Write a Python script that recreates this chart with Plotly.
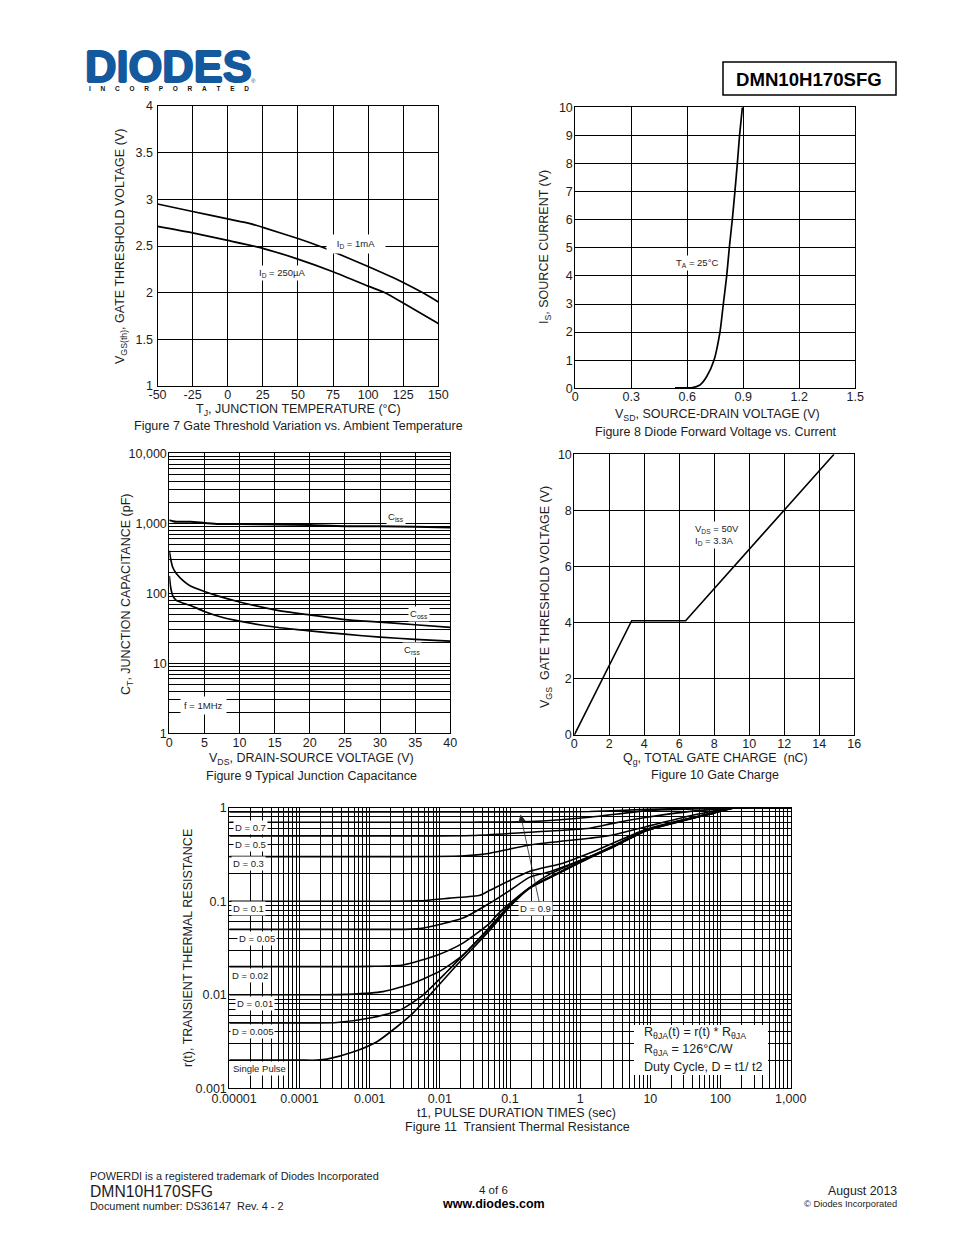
import plotly.graph_objects as go

# Figure 7
temp = [-50, -25, 0, 16, 25, 50, 65, 75, 100, 125, 140, 150]
vth_1ma = [2.95, 2.87, 2.79, 2.74, 2.70, 2.58, 2.50, 2.44, 2.28, 2.11, 1.99, 1.90]
temp2 = [-50, -25, 0, 25, 50, 75, 100, 112, 125, 150]
vth_250ua = [2.71, 2.64, 2.56, 2.475, 2.36, 2.225, 2.07, 2.0, 1.89, 1.67]

# Figure 8
vsd = [0.534, 0.623, 0.668, 0.704, 0.743, 0.775, 0.793, 0.811, 0.825, 0.841, 0.855, 0.868, 0.88, 0.895]
isd = [0.02, 0.02, 0.12, 0.42, 1.0, 2.0, 3.0, 4.0, 5.0, 6.0, 7.0, 8.0, 9.0, 10.0]

# Figure 9
vds = [0, 0.2, 0.5, 1, 2, 3, 5, 7, 10, 15, 20, 25, 30, 35, 40]
ciss = [1110, 1090, 1070, 1050, 1050, 1050, 1010, 975, 975, 960, 940, 905, 905, 890, 870]
coss = [405, 307, 233, 191, 150, 127, 106, 91, 75, 58, 49, 42, 38.8, 35.5, 32.5]
crss = [177, 120, 92, 79, 72, 67, 55, 47, 40, 33, 29, 26, 23.6, 22, 20.7]

# Figure 10
qg = [0, 3.28, 6.36, 8, 12, 14.84]
vgs = [0, 4.07, 4.07, 5.22, 8.02, 10]

# Figure 11
t_single = [1e-5, 1e-4, 1.8e-4, 2.47e-4, 5.78e-4, 0.00127, 0.00245, 0.00414, 0.00798, 0.0175, 0.0517, 0.1, 0.192, 0.37, 1.37, 2.92, 8.9, 26.3, 77.6, 150, 1000]
r_single = [0.002, 0.002, 0.002, 0.00205, 0.00244, 0.00315, 0.00455, 0.00637, 0.0108, 0.0208, 0.0491, 0.088, 0.138, 0.178, 0.292, 0.378, 0.57, 0.71, 0.87, 0.99, 1.0]
t_005 = [1e-5, 1.5e-4, 3.42e-4, 0.00101, 0.0027, 0.00574, 0.0126, 0.0269, 0.0517, 0.1, 0.192, 0.37, 1.37, 2.92, 8.9, 26.3, 77.6, 150, 1000]
r_005 = [0.005, 0.005, 0.00505, 0.00564, 0.00686, 0.00993, 0.0176, 0.0315, 0.0516, 0.09, 0.139, 0.18, 0.294, 0.38, 0.572, 0.715, 0.87, 0.99, 1.0]
t_01 = [1e-5, 2e-4, 5e-4, 0.00155, 0.00414, 0.01, 0.0213, 0.0517, 0.1, 0.192, 0.37, 1.37, 2.92, 8.9, 26.3, 77.6, 150, 1000]
r_01 = [0.01, 0.01, 0.0101, 0.0108, 0.0133, 0.0179, 0.0265, 0.0533, 0.092, 0.14, 0.182, 0.296, 0.38, 0.575, 0.718, 0.873, 0.995, 1.0]
t_02 = [1e-5, 5e-4, 0.00101, 0.00298, 0.0091, 0.0213, 0.0517, 0.065, 0.1, 0.192, 0.37, 1.37, 2.92, 8.9, 26.3, 77.6, 150, 1000]
r_02 = [0.02, 0.02, 0.0201, 0.0208, 0.0265, 0.0357, 0.0583, 0.0711, 0.0955, 0.141, 0.195, 0.30, 0.385, 0.578, 0.72, 0.875, 0.995, 1.0]
t_05 = [1e-5, 0.002, 0.0052, 0.0213, 0.0517, 0.1, 0.192, 0.37, 1.37, 2.92, 8.9, 26.3, 77.6, 150, 1000]
r_05 = [0.05, 0.05, 0.051, 0.066, 0.0955, 0.131, 0.181, 0.207, 0.30, 0.39, 0.58, 0.725, 0.875, 0.995, 1.0]
t_1 = [1e-5, 0.002, 0.0052, 0.0139, 0.0373, 0.0517, 0.192, 0.567, 1.37, 2.92, 8.9, 26.3, 77.6, 150, 1000]
r_1 = [0.1, 0.1, 0.101, 0.108, 0.116, 0.131, 0.209, 0.255, 0.327, 0.417, 0.59, 0.73, 0.88, 0.995, 1.0]
t_3 = [1e-5, 0.00298, 0.02, 0.0373, 0.0517, 0.192, 1.37, 2.92, 8.9, 40, 100, 150, 1000]
r_3 = [0.3, 0.3, 0.305, 0.315, 0.326, 0.40, 0.472, 0.51, 0.63, 0.83, 0.95, 1.0, 1.0]
t_5 = [1e-5, 0.01, 0.03, 0.192, 1.37, 2.92, 8.9, 40, 100, 150, 1000]
r_5 = [0.5, 0.5, 0.505, 0.547, 0.604, 0.68, 0.79, 0.92, 0.97, 1.0, 1.0]
t_7 = [1e-5, 0.01, 0.03, 0.192, 1.37, 8.9, 40, 150, 1000]
r_7 = [0.7, 0.7, 0.7, 0.71, 0.79, 0.93, 0.97, 1.0, 1.0]
t_9 = [1e-5, 0.192, 1.37, 8.9, 40, 150, 1000]
r_9 = [0.9, 0.9, 0.91, 0.96, 0.98, 1.0, 1.0]

thermal_curves = [(t_single, r_single), (t_005, r_005), (t_01, r_01), (t_02, r_02), (t_05, r_05),
                  (t_1, r_1), (t_3, r_3), (t_5, r_5), (t_7, r_7), (t_9, r_9)]

FONT = "Liberation Sans"
INK = "#1c1c1c"
W, H = 938, 1219  # browser body margin is 8px


def fx(p):
    return (p - 8) / W


def fy(p):
    return 1 - (p - 8) / H


def minor_ticks(lo, hi):
    return [m * 10.0 ** d for d in range(lo, hi) for m in range(2, 10)]


fig = go.Figure()


def axis(x0, x1, horizontal, anchor, rng, tickvals, ticktext=None, kind="linear", minor=None, standoff=0):
    a = dict(
        domain=[fx(x0), fx(x1)] if horizontal else [fy(x1), fy(x0)],
        anchor=anchor, type=kind, range=rng, tickmode="array", tickvals=tickvals,
        ticktext=ticktext if ticktext else [str(v) for v in tickvals],
        showgrid=True, gridcolor="black", gridwidth=1, zeroline=False,
        showline=True, linecolor="black", linewidth=1, mirror=True, ticks="",
        tickfont=dict(family=FONT, size=12.5, color=INK), tickangle=0, ticklabelstandoff=standoff,
    )
    if minor:
        a["minor"] = dict(tickmode="array", tickvals=minor, showgrid=True, gridcolor="black", gridwidth=1, ticks="")
    return a


def curve(x, y, n, width=1.7, shape="spline"):
    fig.add_trace(go.Scatter(x=x, y=y, xaxis="x" + n, yaxis="y" + n, mode="lines",
                             line=dict(color="black", width=width, shape=shape, smoothing=0.6),
                             showlegend=False, hoverinfo="skip"))


curve(temp, vth_1ma, "")
curve(temp2, vth_250ua, "")
curve(vsd, isd, "2")
curve(vds, ciss, "3", 2)
curve(vds, coss, "3")
curve(vds, crss, "3")
curve(qg, vgs, "4", 1.6, "linear")
for tt, rr in thermal_curves:
    curve(tt, rr, "5", 1.6)

fig.update_layout(
    width=W, height=H, margin=dict(l=0, r=0, t=0, b=0, autoexpand=False), autosize=False,
    paper_bgcolor="white", plot_bgcolor="white", showlegend=False,
    font=dict(family=FONT, color=INK),
    xaxis=axis(157.5, 438.3, True, "y", [-50, 150], [-50, -25, 0, 25, 50, 75, 100, 125, 150], standoff=-3),
    yaxis=axis(106, 386, False, "x", [1, 4], [1, 1.5, 2, 2.5, 3, 3.5, 4], standoff=1),
    xaxis2=axis(575.3, 855.3, True, "y2", [0, 1.5], [0, 0.3, 0.6, 0.9, 1.2, 1.5], standoff=-3),
    yaxis2=axis(107.3, 388.3, False, "x2", [0, 10], list(range(11)), standoff=-1),
    xaxis3=axis(169.3, 450.3, True, "y3", [0, 40], [0, 5, 10, 15, 20, 25, 30, 35, 40], standoff=-2),
    yaxis3=axis(453.2, 733.3, False, "x3", [0, 4], [1, 10, 100, 1000, 10000],
                ["1", "10", "100", "1,000", "10,000"], "log", minor_ticks(0, 4), standoff=-1),
    xaxis4=axis(574.3, 854.3, True, "y4", [0, 16], list(range(0, 17, 2)), standoff=-3),
    yaxis4=axis(454.3, 735, False, "x4", [0, 10], [0, 2, 4, 6, 8, 10], standoff=-1),
    xaxis5=axis(229.3, 790.7, True, "y5", [-5, 3],
                [1e-5, 1e-4, 1e-3, 1e-2, 0.1, 1, 10, 100, 1000],
                ["\u2002\u00a00.00001", "0.0001", "0.001", "0.01", "0.1", "1", "10", "100", "1,000"], "log", minor_ticks(-5, 3), standoff=-1),
    yaxis5=axis(807.7, 1088.3, False, "x5", [-3, 0], [0.001, 0.01, 0.1, 1],
                ["0.001", "0.01", "0.1", "1"], "log", minor_ticks(-3, 0), standoff=-1),
)


def note(text, x, y, size=12.5, anchor="center", bg=None, color=INK, angle=0, bold=False, **kw):
    font = dict(family=FONT, size=size, color=color)
    if bold:
        font["weight"] = "bold"
    if "shadow" in kw:
        font["shadow"] = kw.pop("shadow")
    fig.add_annotation(text=text, x=fx(x), y=fy(y), xref="paper", yref="paper", showarrow=False,
                       xanchor=anchor, yanchor="middle", font=font, bgcolor=bg, textangle=angle,
                       borderpad=kw.pop("borderpad", 1), **kw)


# Axis titles
note("T<sub>J</sub>, JUNCTION TEMPERATURE (°C)", 298, 409.5)
note("V<sub>GS(th)</sub>, GATE THRESHOLD VOLTAGE (V)", 121, 247, angle=-90)
note("V<sub>SD</sub>, SOURCE-DRAIN VOLTAGE (V)", 717, 415)
note("I<sub>S</sub>, SOURCE CURRENT (V)", 545, 247, angle=-90)
note("V<sub>DS</sub>, DRAIN-SOURCE VOLTAGE (V)", 311, 759)
note("C<sub>T</sub>, JUNCTION CAPACITANCE (pF)", 127, 595, angle=-90)
note("Q<sub>g</sub>, TOTAL GATE CHARGE\u00a0 (nC)", 715, 759)
note("V<sub>GS</sub>\u00a0 GATE THRESHOLD VOLTAGE (V)", 546, 597, angle=-90)
note("t1, PULSE DURATION TIMES (sec)", 517, 1113)
note("r(t), TRANSIENT THERMAL RESISTANCE", 188, 948, angle=-90)

# Captions
note("Figure 7 Gate Threshold Variation vs. Ambient Temperature", 298, 426)
note("Figure 8 Diode Forward Voltage vs. Current", 716, 432)
note("Figure 9 Typical Junction Capacitance", 311, 776)
note("Figure 10 Gate Charge", 715, 775)
note("Figure 11\u00a0 Transient Thermal Resistance", 517.5, 1127)

# In-plot labels
WHITE = "white"
note("I<sub>D</sub> = 1mA", 356, 243.5, 9.5, bg=WHITE, borderpad=3, width=52)
note("I<sub>D</sub> = 250µA", 282, 272.5, 9.5, bg=WHITE)
note("T<sub>A</sub> = 25°C", 696.5, 262.5, 9.5, bg=WHITE)
note("C<sub>iss</sub>", 396, 517, 9.5, bg=WHITE)
note("C<sub>oss</sub>", 419, 613.5, 9.5, bg=WHITE)
note("C<sub>rss</sub>", 412, 649.5, 9.5, bg=WHITE)
note("f = 1MHz", 203, 705, 9.5, bg=WHITE, borderpad=3)
note("V<sub>DS</sub> = 50V<br>I<sub>D</sub> = 3.3A", 693, 535, 9.5, anchor="left", bg=WHITE, align="left")
for label, lx, ly in [("D = 0.7", 250, 827), ("D = 0.5", 250, 844), ("D = 0.3", 248, 863),
                      ("D = 0.1", 249, 909), ("D = 0.05", 257, 938), ("D = 0.02", 250, 975),
                      ("D = 0.01", 255, 1003), ("D = 0.005", 252, 1031), ("Single Pulse", 259, 1068),
                      ("D = 0.9", 535, 908)]:
    note(label, lx, ly, 9.5, bg=WHITE)

# Thermal resistance note on its white panel
fig.add_shape(type="rect", xref="paper", yref="paper", x0=fx(634), x1=fx(768), y0=fy(1075), y1=fy(1025),
              fillcolor="white", line=dict(width=0), layer="above")
note("R<sub>θJA</sub>(t) = r(t) * R<sub>θJA</sub>", 642, 1032.5, anchor="left")
note("R<sub>θJA</sub> = 126°C/W", 642, 1049.5, anchor="left")
note("Duty Cycle, D = t1/ t2", 642, 1067, anchor="left")

# D = 0.9 arrow
fig.add_annotation(x=fx(520.5), y=fy(814.5), xref="paper", yref="paper", ax=19, ay=89, axref="pixel", ayref="pixel",
                   text="", showarrow=True, arrowhead=2, arrowsize=1.8, arrowwidth=0.8, arrowcolor="#222222")

# Logo
BLUE = "#14589e"
thick = ", ".join(s + " " + BLUE for s in ["1px 0", "-1px 0", "0 1px", "0 -1px"])
note("DIODES", 168.5, 66.5, 43.5, color=BLUE, bold=True, shadow=thick, height=38)
note("®", 253.5, 81, 6, color=BLUE)
note("\u2003\u2002".join("INCORPORATED"), 168.5, 88.5, 6.5, color="#111111", bold=True)

# Part number box
fig.add_shape(type="rect", xref="paper", yref="paper", x0=fx(723), x1=fx(896), y0=fy(95), y1=fy(62),
              line=dict(color="black", width=1.5))
note("DMN10H170SFG", 809, 79, 18.6, color="black", bold=True)

# Footer
note("POWERDI is a registered trademark of Diodes Incorporated", 88, 1176, 10.9, anchor="left")
note("DMN10H170SFG", 88, 1191, 15.7, anchor="left")
note("Document number: DS36147\u00a0 Rev. 4 - 2", 88, 1206, 10.9, anchor="left")
note("4 of 6", 494, 1190, 11.5)
note("www.diodes.com", 494, 1204, 12.5, color="black", bold=True)
note("August 2013", 899, 1191, 12.3, anchor="right")
note("© Diodes Incorporated", 899, 1204, 9.3, anchor="right")

fig.write_html("out.html")
